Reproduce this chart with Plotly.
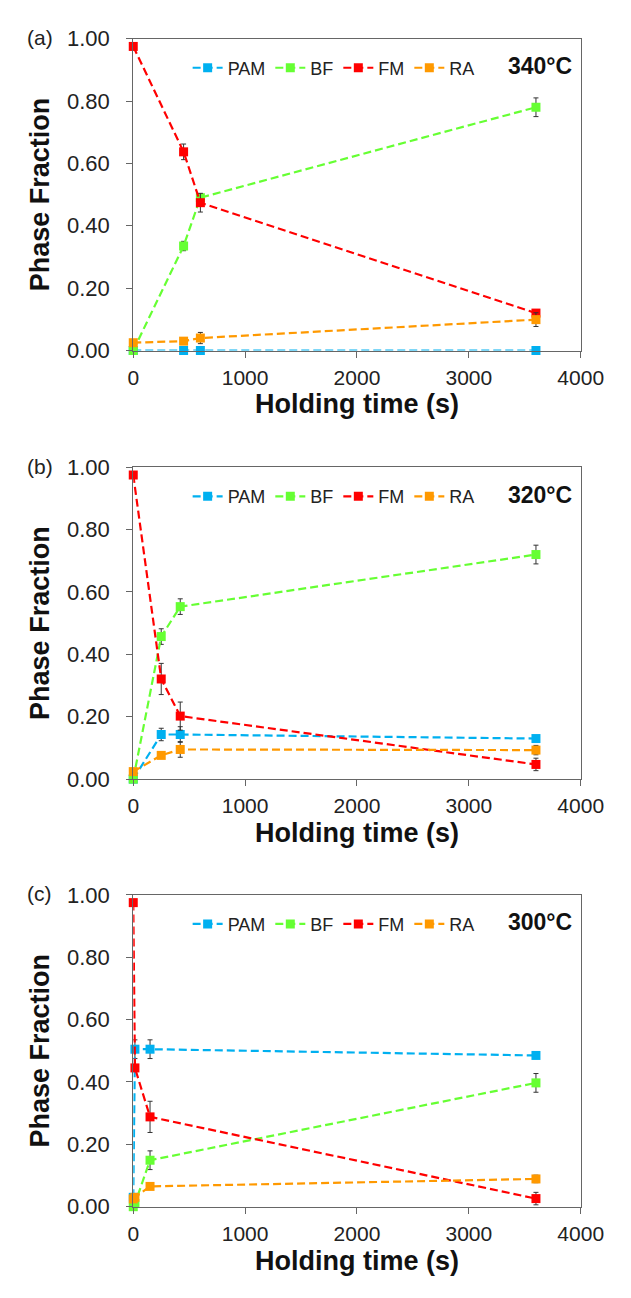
import plotly.graph_objects as go

# ---------------- data ----------------
series_names = ["PAM", "BF", "FM", "RA"]
series_colors = ["#00B0F0", "#66FF33", "#FF0000", "#FF9900"]

panel_labels = ["(a)", "(b)", "(c)"]
temperatures = ["340°C", "320°C", "300°C"]

times_a = [0, 450, 600, 3600]
pam_a = [0.0, 0.0, 0.0, 0.0]
bf_a = [0.0, 0.335, 0.49, 0.78]
fm_a = [0.975, 0.637, 0.474, 0.12]
ra_a = [0.025, 0.03, 0.04, 0.099]
pam_a_err = [0, 0, 0, 0]
bf_a_err = [0, 0.015, 0.012, 0.03]
fm_a_err = [0.005, 0.025, 0.03, 0.008]
ra_a_err = [0.004, 0.008, 0.018, 0.022]

times_b = [0, 250, 420, 3600]
pam_b = [0.0, 0.143, 0.143, 0.13]
bf_b = [0.0, 0.457, 0.553, 0.72]
fm_b = [0.975, 0.321, 0.202, 0.047]
ra_b = [0.024, 0.076, 0.095, 0.093]
pam_b_err = [0, 0.02, 0.025, 0.008]
bf_b_err = [0, 0.025, 0.025, 0.03]
fm_b_err = [0.01, 0.05, 0.045, 0.02]
ra_b_err = [0, 0.008, 0.025, 0.015]

times_c = [0, 15, 150, 3600]
pam_c = [0.03, 0.505, 0.505, 0.485]
bf_c = [0.0, 0.01, 0.149, 0.397]
fm_c = [0.975, 0.445, 0.288, 0.026]
ra_c = [0.025, 0.03, 0.065, 0.089]
pam_c_err = [0, 0.03, 0.03, 0.01]
bf_c_err = [0, 0, 0.03, 0.03]
fm_c_err = [0.01, 0.01, 0.05, 0.02]
ra_c_err = [0, 0, 0.008, 0.012]

x_ticks = [0, 1000, 2000, 3000, 4000]
y_ticks = [0, 0.2, 0.4, 0.6, 0.8, 1.0]

panels = [
    (times_a, [pam_a, bf_a, fm_a, ra_a], [pam_a_err, bf_a_err, fm_a_err, ra_a_err]),
    (times_b, [pam_b, bf_b, fm_b, ra_b], [pam_b_err, bf_b_err, fm_b_err, ra_b_err]),
    (times_c, [pam_c, bf_c, fm_c, ra_c], [pam_c_err, bf_c_err, fm_c_err, ra_c_err]),
]

# ---------------- layout geometry (pixels) ----------------
W, H = 631, 1298
X0, X1 = 125, 594
panel_tops = [19, 456, 892]
panel_bots = [337, 774, 1210]

def px(x):
    return x / W

def py(y):
    return 1 - y / H

FONT = "Liberation Sans, Arial, sans-serif"

fig = go.Figure()
layout = dict(
    width=W, height=H,
    margin=dict(l=0, r=0, t=0, b=0),
    paper_bgcolor="white", plot_bgcolor="white",
    font=dict(family=FONT, color="#222"),
    annotations=[],
    showlegend=True,
)

for i, (times, vals, errs) in enumerate(panels):
    xa = "x" if i == 0 else f"x{i+1}"
    ya = "y" if i == 0 else f"y{i+1}"
    lg = "legend" if i == 0 else f"legend{i+1}"
    for name, color, v, e in zip(series_names, series_colors, vals, errs):
        fig.add_trace(go.Scatter(
            x=times, y=v, name=name, mode="lines+markers",
            line=dict(color=color, width=2.2, dash="8px,4px"),
            marker=dict(symbol="square", size=9, color=color),
            error_y=dict(type="data", array=e, visible=True,
                         color="#333", thickness=1, width=2.5),
            xaxis=xa, yaxis=ya, legend=lg, cliponaxis=False,
        ))
    axis_common = dict(showline=True, linecolor="#666", linewidth=1, mirror=True,
                       showgrid=False, zeroline=False, ticks="outside",
                       tickcolor="#666", ticklen=6)
    layout["xaxis" if i == 0 else f"xaxis{i+1}"] = dict(
        axis_common, domain=[px(X0), px(X1)], range=[0, 4000],
        tickvals=x_ticks, ticktext=[str(t) for t in x_ticks],
        tickfont=dict(size=21, family=FONT, color="#222"),
        ticklabelstandoff=2,
        anchor=ya,
    )
    layout["yaxis" if i == 0 else f"yaxis{i+1}"] = dict(
        axis_common, domain=[py(panel_bots[i]), py(panel_tops[i])], range=[0, 1],
        tickvals=y_ticks, ticktext=[f"{t:.2f}" for t in y_ticks],
        tickfont=dict(size=22, family=FONT, color="#222"),
        ticklabelstandoff=12,
        anchor=xa,
    )
    layout[lg] = dict(
        orientation="h", x=px(182), xanchor="left",
        y=py(panel_tops[i] + 30), yanchor="middle",
        font=dict(size=18, family=FONT, color="#222"),
        bgcolor="rgba(0,0,0,0)", borderwidth=0,
        itemclick=False, itemdoubleclick=False,
    )
    # temperature label
    layout["annotations"].append(dict(
        text=f"<b>{temperatures[i]}</b>", x=px(587), y=py(panel_tops[i] + 28),
        xref="paper", yref="paper", xanchor="right", yanchor="middle",
        showarrow=False, font=dict(size=23, family=FONT, color="#111"),
    ))
    # panel label
    layout["annotations"].append(dict(
        text=panel_labels[i], x=px(12), y=py(panel_tops[i] - 1),
        xref="paper", yref="paper", xanchor="left", yanchor="middle",
        showarrow=False, font=dict(size=21, family=FONT, color="#222"),
    ))
    # y title
    layout["annotations"].append(dict(
        text="<b>Phase Fraction</b>", x=px(27), y=py((panel_tops[i] + panel_bots[i]) / 2),
        xref="paper", yref="paper", xanchor="center", yanchor="middle",
        textangle=-90, showarrow=False, font=dict(size=27, family=FONT, color="#111"),
    ))
    # x title
    layout["annotations"].append(dict(
        text="<b>Holding time (s)</b>", x=px((X0 + X1) / 2), y=py(panel_bots[i] + 55),
        xref="paper", yref="paper", xanchor="center", yanchor="middle",
        showarrow=False, font=dict(size=27, family=FONT, color="#111"),
    ))

fig.update_layout(**layout)
fig.write_html("out.html")
